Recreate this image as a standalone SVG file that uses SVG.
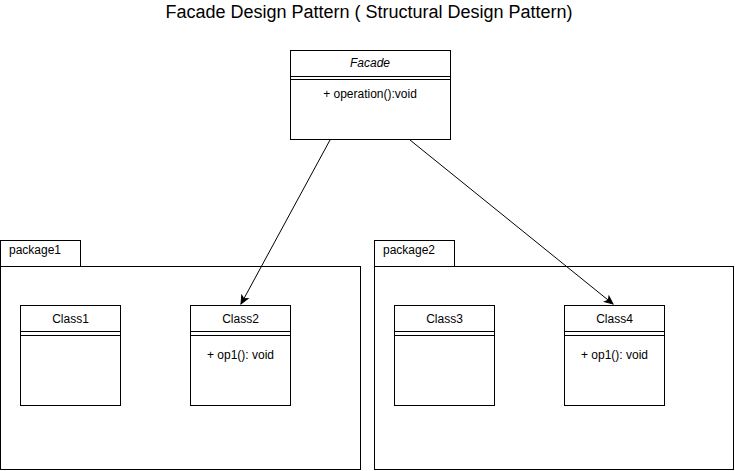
<svg xmlns="http://www.w3.org/2000/svg" width="735" height="471" viewBox="0 0 735 471">
<style>
.b{fill:#fff;stroke:#000;stroke-width:1}
.l{stroke:#000;stroke-width:1;fill:none}
text{font-family:"Liberation Sans",Arial,sans-serif;font-size:12px;fill:#000}
.c{text-anchor:middle}
</style>
<defs>
<marker id="ah" markerWidth="10" markerHeight="10" refX="9" refY="5" orient="auto" markerUnits="userSpaceOnUse">
<path d="M1,1.5 L9,5 L1,8.5 L3,5 Z" fill="#000" stroke="#000"/>
</marker>
</defs>
<rect width="735" height="471" fill="#fff"/>
<text x="369" y="18" class="c" style="font-size:18px">Facade Design Pattern ( Structural Design Pattern)</text>
<g id="facade">
<rect class="b" x="290.5" y="50.5" width="160" height="89"/>
<line class="l" x1="290.5" y1="76.5" x2="450.5" y2="76.5"/>
<line class="l" x1="290.5" y1="79.5" x2="450.5" y2="79.5"/>
<text x="370" y="67" class="c" font-style="italic">Facade</text>
<text x="370" y="98" class="c">+ operation():void</text>
</g>
<g id="package1">
<rect class="b" x="0.5" y="240.5" width="80" height="26"/>
<rect class="b" x="0.5" y="266.5" width="360" height="203"/>
<text x="9" y="254">package1</text>
</g>
<g id="package2">
<rect class="b" x="374.5" y="240.5" width="80" height="26"/>
<rect class="b" x="374.5" y="266.5" width="359" height="203"/>
<text x="383" y="254">package2</text>
</g>
<g id="class1">
<rect class="b" x="20.5" y="305.5" width="100" height="100"/>
<line class="l" x1="20.5" y1="331.5" x2="120.5" y2="331.5"/>
<line class="l" x1="20.5" y1="335.5" x2="120.5" y2="335.5"/>
<text x="70.5" y="323" class="c">Class1</text>
</g>
<g id="class2">
<rect class="b" x="190.5" y="305.5" width="100" height="100"/>
<line class="l" x1="190.5" y1="331.5" x2="290.5" y2="331.5"/>
<line class="l" x1="190.5" y1="335.5" x2="290.5" y2="335.5"/>
<text x="240.5" y="323" class="c">Class2</text>
<text x="240.5" y="359" class="c">+ op1(): void</text>
</g>
<g id="class3">
<rect class="b" x="394.5" y="305.5" width="100" height="100"/>
<line class="l" x1="394.5" y1="331.5" x2="494.5" y2="331.5"/>
<line class="l" x1="394.5" y1="335.5" x2="494.5" y2="335.5"/>
<text x="444.5" y="323" class="c">Class3</text>
</g>
<g id="class4">
<rect class="b" x="564.5" y="305.5" width="100" height="100"/>
<line class="l" x1="564.5" y1="331.5" x2="664.5" y2="331.5"/>
<line class="l" x1="564.5" y1="335.5" x2="664.5" y2="335.5"/>
<text x="614.5" y="323" class="c">Class4</text>
<text x="614.5" y="359" class="c">+ op1(): void</text>
</g>
<g id="connectors">
<line class="l" x1="330" y1="140" x2="241" y2="304" marker-end="url(#ah)"/>
<line class="l" x1="410" y1="140" x2="613" y2="304" marker-end="url(#ah)"/>
</g>
</svg>
